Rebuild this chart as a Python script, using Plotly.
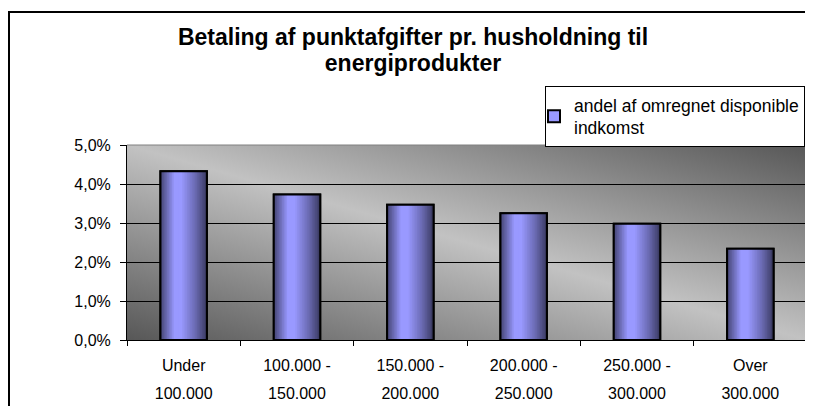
import base64
import plotly.graph_objects as go

# ---- data ----
cat_top = ["Under", "100.000 -", "150.000 -", "200.000 -", "250.000 -", "Over"]
cat_bottom = ["100.000", "150.000", "200.000", "250.000", "300.000", "300.000"]
categories = [f"{a} {b}" for a, b in zip(cat_top, cat_bottom)]
values = [0.0433, 0.0373, 0.0347, 0.0325, 0.0298, 0.0234]
series_name = "andel af omregnet disponible<br>indkomst"
title_lines = ["Betaling af punktafgifter pr. husholdning til", "energiprodukter"]

# ---- layout constants (page body has an 8px margin) ----
OFF = 8
W, H = 813 - OFF, 406 - OFF
ML = 127 - OFF
MT = 145 - OFF
PW, PH = 680, 195
MR = W - ML - PW
MB = H - MT - PH
FONT = "Liberation Sans, Arial, sans-serif"
BAR_W = 0.41


def px_x(sx):  # screen px -> paper x
    return (sx - OFF - ML) / PW


def px_y(sy):  # screen px -> paper y
    return (H - MB - (sy - OFF)) / PH


fig = go.Figure()

# legend-carrying base bar
fig.add_trace(go.Bar(
    x=categories, y=values, name=series_name, width=BAR_W,
    marker=dict(color="#9999ff", line=dict(color="black", width=2)),
    showlegend=True, hoverinfo="skip",
))

# gradient slices (horizontal shading of each bar)
N = 28
profile = [(0.0, 0.45), (0.3, 1.0), (0.45, 1.0), (0.75, 0.7), (1.0, 0.38)]


def shade(t):
    for (t0, f0), (t1, f1) in zip(profile[:-1], profile[1:]):
        if t0 <= t <= t1:
            return f0 + (f1 - f0) * (t - t0) / (t1 - t0)
    return profile[-1][1]


base = (153, 153, 255)
sw = BAR_W / N
for i in range(N):
    t = (i + 0.5) / N
    f = shade(t)
    col = "rgb(%d,%d,%d)" % tuple(min(255, int(c * f)) for c in base)
    off = -BAR_W / 2 + i * sw
    wdt = min(sw * 1.6, BAR_W / 2 - off)
    fig.add_trace(go.Bar(
        x=categories, y=values, offset=off, width=wdt,
        marker=dict(color=col, line=dict(width=0)),
        showlegend=False, hoverinfo="skip",
    ))

# outline on top
fig.add_trace(go.Bar(
    x=categories, y=values, width=BAR_W,
    marker=dict(color="rgba(0,0,0,0)", line=dict(color="black", width=2)),
    showlegend=False, hoverinfo="skip",
))

# gradient plot background as svg image
svg = (
    '<svg xmlns="http://www.w3.org/2000/svg" width="680" height="195" '
    'viewBox="0 0 680 195" preserveAspectRatio="none">'
    '<defs><linearGradient id="g" x1="0" y1="1" x2="1" y2="0">'
    '<stop offset="0" stop-color="#575757"/>'
    '<stop offset="0.5" stop-color="#c2c2c2"/>'
    '<stop offset="1" stop-color="#575757"/>'
    '</linearGradient></defs>'
    '<rect width="680" height="195" fill="url(#g)"/></svg>'
)
uri = "data:image/svg+xml;base64," + base64.b64encode(svg.encode()).decode()

ticktext = [
    f"<span style='font-size:16px'>{a}</span><br><span style='font-size:16px'>{b}</span>"
    for a, b in zip(cat_top, cat_bottom)
]
title_html = "<br>".join(
    f"<span style='font-size:23px'><b>{ln}</b></span>" for ln in title_lines
)

fig.update_layout(
    width=W, height=H,
    margin=dict(l=ML, r=MR, t=MT, b=MB, pad=0, autoexpand=False),
    paper_bgcolor="white",
    plot_bgcolor="#a0a0a0",
    barmode="overlay",
    separators=",.",
    font=dict(family=FONT, color="black", size=16),
    hovermode=False,
    title=dict(
        text=title_html,
        font=dict(family=FONT, size=20, color="black"),
        x=(413 - OFF) / W, xanchor="center",
        y=1 - (45 - OFF) / H, yanchor="top",
        xref="container", yref="container",
    ),
    legend=dict(
        x=px_x(545), y=px_y(86), xanchor="left", yanchor="top",
        bgcolor="white", bordercolor="black", borderwidth=1,
        font=dict(family=FONT, size=17.5, color="black"),
        itemwidth=30, indentation=-12,
    ),
    xaxis=dict(
        type="category",
        tickmode="array", tickvals=categories, ticktext=ticktext,
        tickfont=dict(family=FONT, size=21, color="black"),
        showline=True, linecolor="black", linewidth=1,
        ticks="outside", ticklen=5, tickcolor="black", tickwidth=1,
        tickson="boundaries",
        showgrid=False, zeroline=False,
        ticklabelstandoff=5,
    ),
    yaxis=dict(
        range=[0, 0.05], dtick=0.01, tickformat=".1%",
        showline=True, linecolor="black", linewidth=1,
        ticks="outside", ticklen=6, tickcolor="black", tickwidth=1,
        showgrid=True, gridcolor="black", gridwidth=1,
        zeroline=False,
        tickfont=dict(family=FONT, size=16, color="black"),
        ticklabelstandoff=6,
    ),
    images=[dict(
        source=uri, xref="x domain", yref="y domain",
        x=0, y=1, sizex=1, sizey=1, xanchor="left", yanchor="top",
        sizing="stretch", layer="below",
    )],
    shapes=[
        # gray plot-area border top & right
        dict(type="line", xref="x domain", yref="y domain", x0=0, x1=1, y0=1, y1=1,
             line=dict(color="#808080", width=1), layer="above"),
        dict(type="line", xref="x domain", yref="y domain", x0=1, x1=1, y0=0, y1=1,
             line=dict(color="#808080", width=1), layer="above"),
        # outer chart frame (left and top edges visible)
        dict(type="line", xref="paper", yref="paper",
             x0=px_x(9), x1=px_x(9), y0=px_y(420), y1=px_y(12),
             line=dict(color="black", width=2), layer="above"),
        dict(type="line", xref="paper", yref="paper",
             x0=px_x(8), x1=px_x(830), y0=px_y(12), y1=px_y(12),
             line=dict(color="black", width=2), layer="above"),
    ],
)

fig.write_html("out.html")
